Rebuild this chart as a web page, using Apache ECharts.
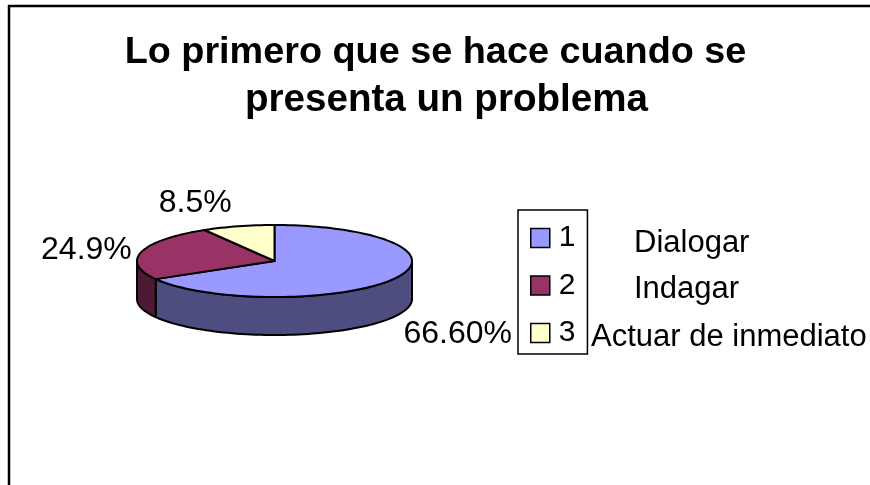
<!DOCTYPE html>
<html>
<head>
<meta charset="utf-8">
<style>
  html, body { margin: 0; padding: 0; background: #fff; }
  #chart { width: 870px; height: 485px; }
</style>
<script src="https://cdn.jsdelivr.net/npm/echarts@6/dist/echarts.min.js"></script>
</head>
<body>
<div id="chart"></div>
<script>
  // datos del grafico
  const titleLines = ['Lo primero que se hace cuando se', 'presenta un problema']
  const legendNames = ['1', '2', '3']
  const categories = ['Dialogar', 'Indagar', 'Actuar de inmediato']
  const values = [66.6, 24.9, 8.5]
  const valueLabels = ['66.60%', '24.9%', '8.5%']

  // estilos
  const topColors = ['#9999ff', '#993366', '#ffffcc']
  const sideColors = ['#4d4d80', '#4d1a33', '#808066']
  const font = '"Liberation Sans", Arial, sans-serif'

  // geometria del pastel (elipse + profundidad)
  const cx = 274.5, cy = 261, rx = 137.5, ry = 36, depth = 38
  const labelShift = [[64, 55], [-55, -2], [-43, -23]]
  const categoryX = [634, 634, 591]
  const categoryY = [243, 289, 337]
  const titleLeft = [430.5, 441.5]
  const titleTop = [24, 71]
  const titleSize = [37.8, 38.6]

  const total = values.reduce((a, b) => a + b, 0)

  function pointAt(deg, dy) {
    const a = deg * Math.PI / 180
    return [cx + rx * Math.sin(a), cy - ry * Math.cos(a) + (dy || 0)]
  }

  function arc(from, to, dy) {
    const pts = []
    const n = Math.max(2, Math.ceil(Math.abs(to - from) / 2))
    for (let i = 0; i <= n; i++) {
      pts.push(pointAt(from + (to - from) * i / n, dy))
    }
    return pts
  }

  function renderSlice(params, api) {
    const idx = params.seriesIndex
    const before = values.slice(0, idx).reduce((a, b) => a + b, 0)
    const start = before / total * 360
    const end = start + api.value(0) / total * 360
    const children = []
    const line = {stroke: '#000', lineWidth: 2}

    // pared frontal, solo la parte visible (90 a 270 grados)
    const wallFrom = Math.max(start, 90)
    const wallTo = Math.min(end, 270)
    if (wallTo > wallFrom) {
      children.push({
        type: 'polygon',
        shape: {points: arc(wallFrom, wallTo, 0).concat(arc(wallTo, wallFrom, depth))},
        style: Object.assign({fill: sideColors[idx], lineJoin: 'round'}, line)
      })
    }
    // cara superior
    children.push({
      type: 'polygon',
      shape: {points: [[cx, cy]].concat(arc(start, end, 0))},
      style: Object.assign({fill: topColors[idx], lineJoin: 'round'}, line)
    })
    // etiqueta de valor
    const mid = pointAt((start + end) / 2, 0)
    children.push({
      type: 'text',
      x: mid[0] + labelShift[idx][0],
      y: mid[1] + labelShift[idx][1],
      style: {
        text: valueLabels[idx],
        font: '32px ' + font,
        fill: '#000',
        align: 'center',
        verticalAlign: 'middle'
      }
    })
    return {type: 'group', children: children}
  }

  const chart = echarts.init(document.getElementById('chart'), null, {renderer: 'canvas'})

  const categoryTexts = categories.map((name, i) => ({
    type: 'text',
    x: categoryX[i],
    y: categoryY[i],
    style: {
      text: name,
      font: '31px ' + font,
      fill: '#000',
      align: 'left',
      verticalAlign: 'middle'
    }
  }))

  chart.setOption({
    backgroundColor: '#fff',
    animation: false,
    title: titleLines.map((text, i) => ({
      text: text,
      left: titleLeft[i],
      top: titleTop[i],
      textAlign: 'center',
      textStyle: {
        fontFamily: font,
        fontSize: titleSize[i],
        fontWeight: 'bold',
        color: '#000',
        lineHeight: 48
      }
    })),
    legend: {
      data: legendNames,
      orient: 'vertical',
      left: 518,
      top: 210,
      padding: [13, 12, 6, 12],
      itemWidth: 19,
      itemHeight: 19,
      itemGap: 17.5,
      icon: 'rect',
      selectedMode: false,
      borderColor: '#000',
      borderWidth: 1.5,
      itemStyle: {borderColor: '#000', borderWidth: 1.5},
      textStyle: {fontFamily: font, fontSize: 30, color: '#000', padding: [0, 0, 0, 4]}
    },
    graphic: [
      {
        type: 'polyline',
        shape: {points: [[9, 485], [9, 6], [870, 6]]},
        style: {stroke: '#000', lineWidth: 2.5, fill: null}
      }
    ].concat(categoryTexts),
    series: values.map((v, i) => ({
      type: 'custom',
      name: legendNames[i],
      coordinateSystem: 'none',
      itemStyle: {color: topColors[i]},
      renderItem: renderSlice,
      data: [[v]]
    }))
  })
</script>
</body>
</html>
